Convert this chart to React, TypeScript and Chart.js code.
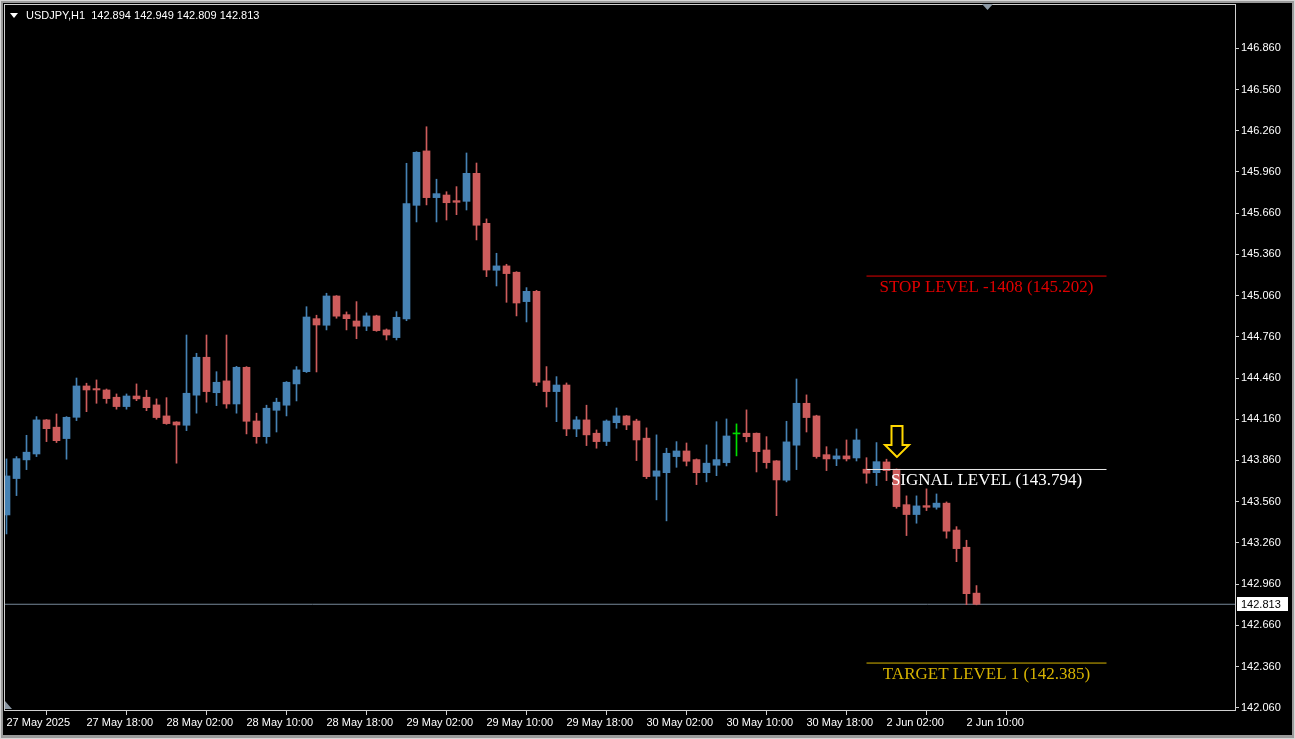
import React, { useEffect, useRef } from 'react';
import { Chart, registerables } from 'chart.js';

Chart.register(...registerables);

const SYMBOL = 'USDJPY,H1';

const opens = [
  143.463, 143.728, 143.864, 143.907, 144.155, 144.102, 144.019, 144.174, 144.402, 144.383,
  144.373, 144.320, 144.252, 144.329, 144.320, 144.264, 144.184, 144.140, 144.116, 144.335,
  144.611, 144.353, 144.439, 144.271, 144.538, 144.147, 144.033, 144.225, 144.262, 144.417,
  144.506, 144.892, 144.844, 145.057, 144.921, 144.875, 144.837, 144.912, 144.810, 144.754,
  144.890, 145.717, 146.113, 145.773, 145.792, 145.751, 145.746, 145.950, 145.586, 145.244,
  145.276, 145.230, 145.016, 145.091, 144.439, 144.361, 144.409, 144.089, 144.155, 144.058,
  143.998, 144.135, 144.184, 144.147, 144.022, 143.745, 143.771, 143.888, 143.929, 143.866,
  143.771, 143.825, 143.844, 144.053, 144.058, 144.058, 143.936, 143.857, 143.716, 143.971,
  144.276, 144.184, 143.902, 143.871, 143.893, 143.878, 143.796, 143.771, 143.849, 143.796,
  143.538, 143.466, 143.531, 143.519, 143.549, 143.354, 143.228, 142.894,
];

const highs = [
  143.871, 143.888, 144.043, 144.179, 144.158, 144.198, 144.179, 144.460, 144.422, 144.446,
  144.380, 144.344, 144.344, 144.417, 144.371, 144.308, 144.317, 144.142, 144.773, 144.640,
  144.773, 144.506, 144.773, 144.545, 144.543, 144.204, 144.262, 144.313, 144.434, 144.543,
  144.979, 144.917, 145.077, 145.060, 144.941, 145.016, 144.934, 144.917, 144.817, 144.943,
  146.023, 146.107, 146.289, 145.907, 145.816, 145.853, 146.098, 146.025, 145.618, 145.368,
  145.288, 145.234, 145.118, 145.098, 144.543, 144.470, 144.424, 144.179, 144.262, 144.082,
  144.155, 144.242, 144.187, 144.160, 144.097, 144.046, 143.949, 143.997, 143.987, 143.871,
  143.973, 144.142, 144.162, 144.126, 144.228, 144.060, 144.033, 143.859, 144.145, 144.453,
  144.337, 144.189, 143.960, 143.944, 144.009, 144.089, 143.880, 143.990, 143.869, 143.798,
  143.602, 143.602, 143.653, 143.616, 143.558, 143.378, 143.279, 142.949,
];

const lows = [
  143.325, 143.604, 143.793, 143.888, 143.997, 143.990, 143.869, 144.150, 144.215, 144.276,
  144.276, 144.233, 144.233, 144.295, 144.222, 144.160, 144.123, 143.840, 144.077, 144.204,
  144.284, 144.259, 144.240, 144.204, 144.053, 143.985, 143.985, 144.067, 144.184, 144.293,
  144.500, 144.504, 144.810, 144.895, 144.810, 144.746, 144.805, 144.800, 144.737, 144.737,
  144.877, 145.596, 145.720, 145.596, 145.610, 145.649, 145.683, 145.465, 145.198, 145.130,
  145.011, 144.912, 144.868, 144.404, 144.249, 144.142, 144.040, 144.033, 143.968, 143.949,
  143.968, 144.094, 144.084, 143.859, 143.728, 143.573, 143.420, 143.810, 143.820, 143.684,
  143.704, 143.749, 143.820, 143.893, 143.995, 143.776, 143.803, 143.458, 143.704, 143.793,
  144.067, 143.876, 143.786, 143.822, 143.856, 143.856, 143.694, 143.677, 143.713, 143.512,
  143.313, 143.403, 143.495, 143.505, 143.294, 143.123, 142.810, 142.809,
];

const closes = [
  143.747, 143.873, 143.920, 144.155, 144.091, 144.004, 144.174, 144.402, 144.373, 144.373,
  144.310, 144.252, 144.329, 144.308, 144.244, 144.172, 144.128, 144.118, 144.349, 144.611,
  144.361, 144.429, 144.271, 144.538, 144.145, 144.033, 144.240, 144.284, 144.429, 144.519,
  144.904, 144.846, 145.057, 144.910, 144.892, 144.837, 144.912, 144.805, 144.773, 144.902,
  145.729, 146.103, 145.773, 145.802, 145.736, 145.739, 145.950, 145.572, 145.246, 145.276,
  145.220, 145.006, 145.091, 144.429, 144.361, 144.409, 144.089, 144.155, 144.046, 143.997,
  144.147, 144.184, 144.118, 144.009, 143.742, 143.784, 143.912, 143.929, 143.854, 143.771,
  143.840, 143.866, 144.038, 144.053, 144.033, 143.924, 143.844, 143.718, 143.995, 144.276,
  144.172, 143.888, 143.871, 143.893, 143.871, 144.009, 143.767, 143.851, 143.786, 143.524,
  143.466, 143.529, 143.519, 143.549, 143.345, 143.218, 142.890, 142.813,
];

const timeTickIndex = [0, 8, 16, 24, 32, 40, 48, 56, 64, 72, 80, 88, 96];
const timeLabels = [
  '27 May 2025', '27 May 18:00', '28 May 02:00', '28 May 10:00', '28 May 18:00',
  '29 May 02:00', '29 May 10:00', '29 May 18:00', '30 May 02:00', '30 May 10:00',
  '30 May 18:00', '2 Jun 02:00', '2 Jun 10:00',
];

const priceTicks = [
  142.06, 142.36, 142.66, 142.96, 143.26, 143.56, 143.86, 144.16, 144.46,
  144.76, 145.06, 145.36, 145.66, 145.96, 146.26, 146.56, 146.86,
];

const levelNames = ['STOP LEVEL -1408 (145.202)', 'SIGNAL LEVEL (143.794)', 'TARGET LEVEL 1 (142.385)'];
const levelPrices = [145.202, 143.794, 142.385];
const levelColors = ['#e00000', '#e8e8e8', '#d8b400'];
const levelTextColors = ['#e00000', '#ffffff', '#d8b400'];
const levelStart = 86;
const levelEnd = 110;
const signalBar = 89;

const X_MIN = -0.15;
const X_MAX = 122.85;
const Y_MIN = 142.0433;
const Y_MAX = 147.1752;

const BULL = '#4682b4';
const BEAR = '#cd5c5c';
const DOJI = '#00dd00';
const FONT = '"Liberation Sans", Arial, sans-serif';

const candleColor = (i: number) =>
  closes[i] > opens[i] ? BULL : closes[i] < opens[i] ? BEAR : DOJI;

const overlayPlugin = {
  id: 'mt4overlay',
  beforeDraw(chart: any) {
    const { ctx, width, height } = chart;
    ctx.save();
    ctx.fillStyle = '#d6d6d6';
    ctx.fillRect(0, 0, width, height);
    ctx.fillStyle = '#9a9a9a';
    ctx.fillRect(1, 1, width - 2, height - 2);
    ctx.fillStyle = '#000000';
    ctx.fillRect(3, 3, width - 6, height - 7);
    ctx.restore();
  },
  afterDatasetsDraw(chart: any) {
    const { ctx } = chart;
    const xs = chart.scales.x;
    const ys = chart.scales.y;
    ctx.save();
    ctx.font = '17px "Liberation Serif", "DejaVu Serif", serif';
    ctx.textAlign = 'center';
    ctx.textBaseline = 'alphabetic';
    const cx = xs.getPixelForValue((levelStart + levelEnd) / 2);
    levelNames.forEach((name, k) => {
      const y = ys.getPixelForValue(levelPrices[k]);
      ctx.fillStyle = levelTextColors[k];
      ctx.fillText(name, cx, y + 16);
    });
    const ax = Math.round(xs.getPixelForValue(signalBar));
    const tip = ys.getPixelForValue(highs[signalBar]) - 12;
    ctx.beginPath();
    ctx.moveTo(ax, tip);
    ctx.lineTo(ax - 12, tip - 12);
    ctx.lineTo(ax - 5.5, tip - 12);
    ctx.lineTo(ax - 5.5, tip - 31);
    ctx.lineTo(ax + 5.5, tip - 31);
    ctx.lineTo(ax + 5.5, tip - 12);
    ctx.lineTo(ax + 12, tip - 12);
    ctx.closePath();
    ctx.fillStyle = '#000000';
    ctx.fill();
    ctx.lineWidth = 2;
    ctx.strokeStyle = '#ffd700';
    ctx.stroke();
    ctx.restore();
  },
  afterDraw(chart: any) {
    const { ctx, chartArea: a } = chart;
    const ys = chart.scales.y;
    ctx.save();
    ctx.strokeStyle = '#d0d0d0';
    ctx.lineWidth = 1;
    ctx.strokeRect(a.left - 0.5, a.top - 0.5, a.right - a.left + 1, a.bottom - a.top + 1);
    ctx.fillStyle = '#ffffff';
    ctx.beginPath();
    ctx.moveTo(10, 13);
    ctx.lineTo(18, 13);
    ctx.lineTo(14, 18);
    ctx.closePath();
    ctx.fill();
    ctx.font = '11px ' + FONT;
    ctx.textAlign = 'left';
    ctx.textBaseline = 'middle';
    const n = closes.length - 1;
    const hdr = `${SYMBOL}  ${opens[n].toFixed(3)} ${highs[n].toFixed(3)} ${lows[n].toFixed(3)} ${closes[n].toFixed(3)}`;
    ctx.fillText(hdr, 26, 16);
    ctx.fillStyle = '#8c98a4';
    ctx.beginPath();
    ctx.moveTo(982, 4);
    ctx.lineTo(993, 4);
    ctx.lineTo(987.5, 10);
    ctx.closePath();
    ctx.fill();
    ctx.beginPath();
    ctx.moveTo(5, 701);
    ctx.lineTo(12, 709);
    ctx.lineTo(5, 709);
    ctx.closePath();
    ctx.fill();
    const py = Math.round(ys.getPixelForValue(closes[n]));
    ctx.fillStyle = '#ffffff';
    ctx.fillRect(a.right + 2, py - 7, 51, 14);
    ctx.fillStyle = '#000000';
    ctx.font = '11px ' + FONT;
    ctx.textBaseline = 'middle';
    ctx.fillText(closes[n].toFixed(3), a.right + 6, py + 0.5);
    ctx.restore();
  },
};

export default function App() {
  const ref = useRef<HTMLCanvasElement | null>(null);

  useEffect(() => {
    document.body.style.margin = '0';
    document.body.style.background = '#000';
    const canvas = ref.current;
    if (!canvas) return;
    const idx = closes.map((_, i) => i);
    const colors = idx.map(candleColor);
    const last = closes[closes.length - 1];

    const datasets: any[] = [
      {
        type: 'bar',
        label: 'wick',
        data: idx.map((i) => ({ x: i, y: [lows[i], highs[i]] })),
        backgroundColor: colors,
        barThickness: 1,
        grouped: false,
        borderWidth: 0,
        order: 2,
      },
      {
        type: 'bar',
        label: 'body',
        data: idx.map((i) => ({ x: i, y: [opens[i], closes[i]] })),
        backgroundColor: colors,
        barThickness: 7,
        minBarLength: 1,
        grouped: false,
        borderWidth: 0,
        order: 1,
      },
      {
        type: 'line',
        label: 'price',
        data: [
          { x: X_MIN, y: last },
          { x: X_MAX, y: last },
        ],
        borderColor: '#778899',
        borderWidth: 1,
        pointRadius: 0,
        order: 3,
      },
      ...levelPrices.map((p, k) => ({
        type: 'line',
        label: levelNames[k],
        data: [
          { x: levelStart, y: p },
          { x: levelEnd, y: p },
        ],
        borderColor: levelColors[k],
        borderWidth: 1,
        pointRadius: 0,
        order: 0,
      })),
    ];

    const chart = new Chart(canvas, {
      type: 'bar',
      data: { datasets },
      options: {
        animation: false,
        responsive: false,
        events: [],
        layout: { padding: { left: 5, top: 5, right: 0, bottom: 0 } },
        plugins: {
          legend: { display: false },
          tooltip: { enabled: false },
          title: { display: false },
        },
        scales: {
          x: {
            type: 'linear',
            min: X_MIN,
            max: X_MAX,
            offset: false,
            afterFit: (s: any) => {
              s.height = 29;
              s.paddingLeft = 0;
              s.paddingRight = 0;
            },
            afterBuildTicks: (s: any) => {
              s.ticks = timeTickIndex.map((v) => ({ value: v }));
            },
            grid: {
              display: true,
              drawOnChartArea: false,
              drawTicks: true,
              tickLength: 5,
              color: '#d0d0d0',
            },
            border: { display: false },
            ticks: {
              autoSkip: false,
              maxRotation: 0,
              minRotation: 0,
              align: 'start',
              padding: 1,
              color: '#ffffff',
              font: { family: FONT, size: 11 },
              callback: (v: any) => {
                const k = timeTickIndex.indexOf(Number(v));
                return k >= 0 ? timeLabels[k] : '';
              },
            },
          },
          y: {
            type: 'linear',
            position: 'right',
            min: Y_MIN,
            max: Y_MAX,
            afterFit: (s: any) => {
              s.width = 60;
              s.paddingTop = 0;
              s.paddingBottom = 0;
            },
            afterBuildTicks: (s: any) => {
              s.ticks = priceTicks.map((v) => ({ value: v }));
            },
            grid: {
              display: true,
              drawOnChartArea: false,
              drawTicks: true,
              tickLength: 4,
              color: '#d0d0d0',
            },
            border: { display: false },
            ticks: {
              autoSkip: false,
              padding: 2,
              color: '#ffffff',
              font: { family: FONT, size: 11 },
              callback: (v: any) => Number(v).toFixed(3),
            },
          },
        },
      },
      plugins: [overlayPlugin],
    } as any);

    return () => chart.destroy();
  }, []);

  return <canvas ref={ref} width={1295} height={739} style={{ display: 'block', width: 1295, height: 739 }} />;
}
